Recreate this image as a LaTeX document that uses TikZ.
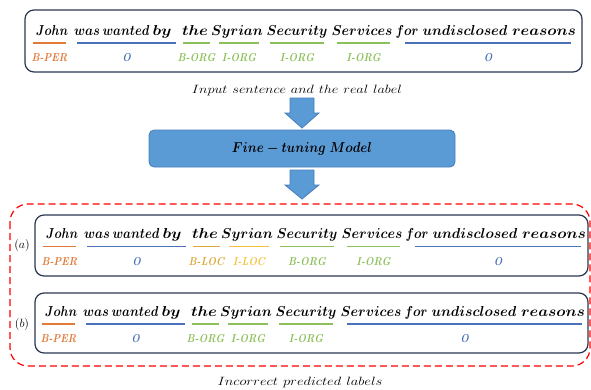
\documentclass[tikz,border=0pt]{standalone}
\usepackage{fontspec}
\usepackage{amsmath}
\usepackage{graphicx}
\definecolor{boxline}{HTML}{2B3650}
\definecolor{cPER}{HTML}{E27B3A}
\definecolor{cO}{HTML}{4A72B8}
\definecolor{cORG}{HTML}{8DBF5A}
\definecolor{cBLOC}{HTML}{D9A93A}
\definecolor{cILOC}{HTML}{F2C23E}
\definecolor{modelfill}{HTML}{5B9BD5}
\definecolor{modelline}{HTML}{4A7EBB}
\definecolor{dashred}{HTML}{FF0000}
\tikzset{
  sentbox/.style={draw=boxline,line width=1.2pt,rounded corners=9pt,inner sep=0pt},
  wordtxt/.style={font=\fontsize{15.5}{17}\selectfont\boldmath,inner sep=0pt,anchor=base},
  tagtxt/.style={font=\fontsize{11.5}{13}\selectfont\bfseries\itshape,inner sep=0pt},
  uline/.style={line width=1.2pt},
  captxt/.style={font=\fontsize{13}{15}\selectfont,inner sep=0pt,anchor=base},
  blockarrow/.style={fill=modelfill,draw=modelline,line width=0.8pt,line join=miter},
}
\newcommand\placesent[3]{%
  \foreach \w/\r/\wwid [count=\i] in {John/15/32,was/50/26,wanted/89/47,by/125/19,the/158/26,Syrian/200/52,Security/260/61,Services/325/61,for/370/23,undisclosed/428/85,reasons/507/64}
    \node[wordtxt] (#1w\i) at ({#2+(\r)},#3) {\resizebox{\wwid pt}{\height}{$\w$}};
}
\newcommand\placetags[4]{%
  \foreach \s/\e/\t/\c [count=\i] in {#4} {
    \coordinate (#1u\i a) at ({#2+(\s)},{#3+8});
    \coordinate (#1u\i b) at ({#2+(\e)},{#3+8});
    \draw[uline,\c] (#1u\i a) -- (#1u\i b);
    \node[tagtxt,text=\c] (#1t\i) at ({#2+(\s)/2+(\e)/2},{#3+23}) {\scalebox{0.86}[1]{\t}};
  }
}
\begin{document}
\begin{tikzpicture}[x=1pt,y=-1pt]
\useasboundingbox (0,0) rectangle (591,389);

% top box
\node[sentbox,minimum width=557pt,minimum height=62pt] (topbox) at (303.5,41) {};
\placesent{top}{37}{35}
\placetags{top}{37}{35}{-4/29/B-PER/cPER,40/139/O/cO,146/173/B-ORG/cORG,182/222/I-ORG/cORG,233/287/I-ORG/cORG,300/353/I-ORG/cORG,368/534/O/cO}

\node[captxt] (cap1) at (297,93) {\resizebox{210pt}{\height}{$Input\ sentence\ and\ the\ real\ label$}};

% arrow 1
\draw[blockarrow] (290,98) -- (314,98) -- (314,113) -- (319,113) -- (302,128) -- (285,113) -- (290,113) -- cycle;

% model box
\node[fill=modelfill,draw=modelline,line width=0.8pt,rounded corners=5pt,minimum width=306pt,minimum height=37pt,inner sep=0pt,font=\fontsize{13.5}{16}\selectfont\boldmath] (model) at (302,148.5) {\resizebox{140pt}{\height}{$Fine - tuning\ Model$}};

% arrow 2
\draw[blockarrow] (290,170) -- (314,170) -- (314,185) -- (319,185) -- (302,199) -- (285,185) -- (290,185) -- cycle;

% red dashed region
\draw[dashred,line width=1.2pt,dash pattern=on 7pt off 4pt,rounded corners=18pt] (10,204) rectangle (590,366);

% box (a)
\node[sentbox,minimum width=553pt,minimum height=61pt] (abox) at (311.5,245.5) {};
\node[font=\fontsize{12}{14}\selectfont,inner sep=0pt] (alab) at (22,245) {$(a)$};
\placesent{a}{47}{238.5}
\placetags{a}{47}{238.5}{-4/29/B-PER/cPER,40/139/O/cO,146/173/B-LOC/cBLOC,182/222/I-LOC/cILOC,233/287/B-ORG/cORG,300/353/I-ORG/cORG,368/534/O/cO}

% box (b)
\node[sentbox,minimum width=553pt,minimum height=60pt] (bbox) at (311.5,323) {};
\node[font=\fontsize{12}{14}\selectfont,inner sep=0pt] (blab) at (22,324) {$(b)$};
\placesent{b}{46}{316}
\placetags{b}{46}{316}{-4/29/B-PER/cPER,40/139/O/cO,146/173/B-ORG/cORG,182/222/I-ORG/cORG,233/287/I-ORG/cORG,301/536/O/cO}

\node[captxt] (cap2) at (300,385) {\resizebox{165pt}{\height}{$Incorrect\ predicted\ labels$}};
\end{tikzpicture}
\end{document}
